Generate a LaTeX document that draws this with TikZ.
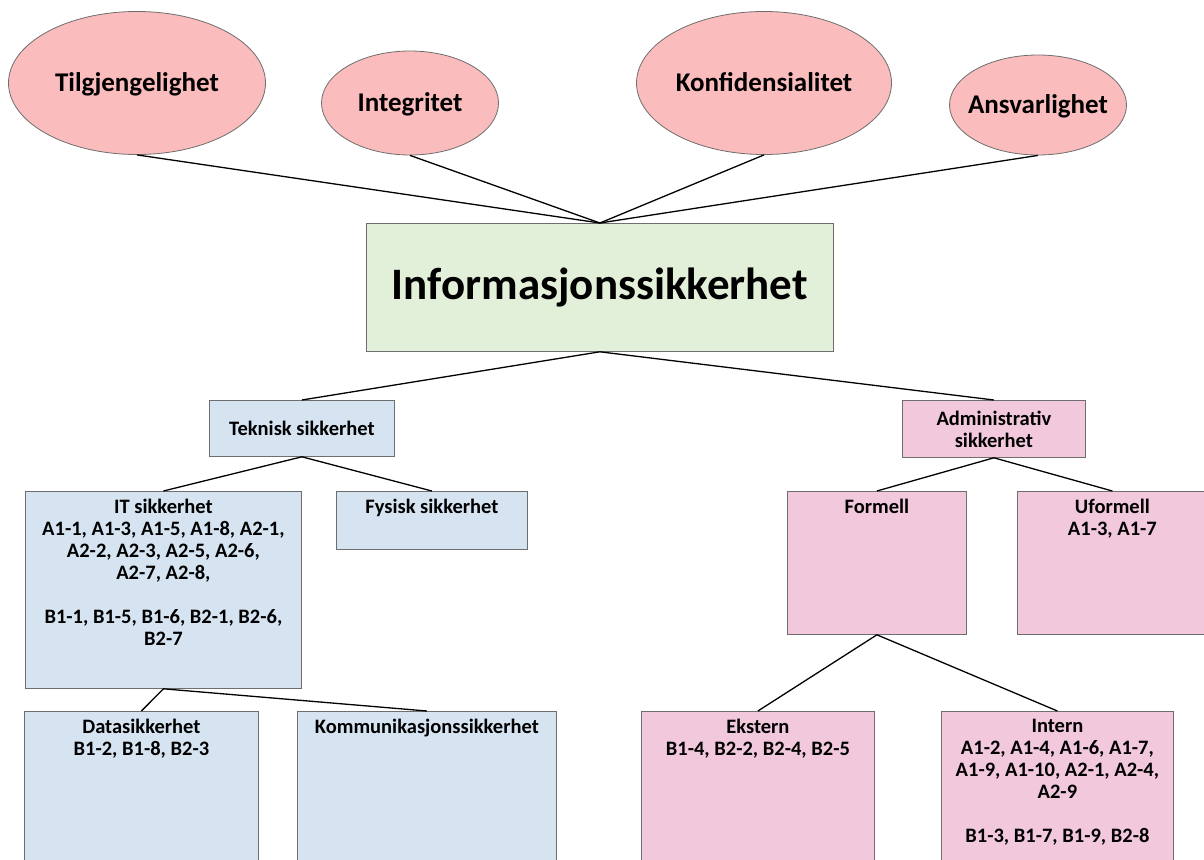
\documentclass[tikz,border=0pt]{standalone}
\usepackage{fontspec}
\setmainfont{Carlito}
\usetikzlibrary{shapes.geometric}
\definecolor{ovalpink}{HTML}{FABCBC}
\definecolor{infogreen}{HTML}{E2EFD9}
\definecolor{tekblue}{HTML}{D6E4F2}
\definecolor{admpink}{HTML}{F2C8DC}
\definecolor{edgegray}{HTML}{6E6E6E}
\begin{document}
\begin{tikzpicture}[x=1pt,y=-1pt,
  oval/.style={ellipse, draw=edgegray, line width=0.8pt, fill=ovalpink, inner sep=0pt, text height=17pt, text depth=0pt, font=\bfseries\fontsize{27}{32}\selectfont},
  box/.style={draw=edgegray, line width=0.8pt, inner sep=0pt, anchor=north west, align=center, font=\bfseries\fontsize{20.5}{22}\selectfont},
  tekbox/.style={box, fill=tekblue},
  admbox/.style={box, fill=admpink},
  toptxt/.style={anchor=north, inner sep=0pt, yshift=-8pt, align=center, font=\bfseries\fontsize{20.5}{22}\selectfont},
  link/.style={line width=1.3pt}]
\useasboundingbox (0,0) rectangle (1204,859);
\clip (0,0) rectangle (1204,859);
% top ovals
\node[oval, minimum width=257pt, minimum height=143pt] (tilg) at (137,83) {\makebox[0pt]{Tilgjengelighet}};
\node[oval, minimum width=177pt, minimum height=104pt] (integ) at (410,103) {\makebox[0pt]{Integritet}};
\node[oval, minimum width=255pt, minimum height=143pt] (konf) at (764,83) {\makebox[0pt]{Konfidensialitet}};
\node[oval, minimum width=177pt, minimum height=100pt] (ansv) at (1038,105) {\makebox[0pt]{Ansvarlighet}};
% main box
\node[box, fill=infogreen, minimum width=467pt, minimum height=128pt, font=\bfseries\fontsize{45}{54}\selectfont] (info) at (366,223) {Informasjonssikkerhet};
% technical side
\node[tekbox, minimum width=185pt, minimum height=56pt] (tek) at (209,400) {Teknisk sikkerhet};
\node[tekbox, minimum width=276pt, minimum height=197pt,
  label={[toptxt]north:{IT sikkerhet\\A1-1, A1-3, A1-5, A1-8, A2-1,\\A2-2, A2-3, A2-5, A2-6,\\A2-7, A2-8,\\[22pt]B1-1, B1-5, B1-6, B2-1, B2-6,\\B2-7}}] (it) at (25,491) {};
\node[tekbox, minimum width=191pt, minimum height=58pt,
  label={[toptxt]north:{Fysisk sikkerhet}}] (fys) at (336,491) {};
\node[tekbox, minimum width=234pt, minimum height=200pt,
  label={[toptxt]north:{Datasikkerhet\\B1-2, B1-8, B2-3}}] (data) at (24,711) {};
\node[tekbox, minimum width=259pt, minimum height=200pt,
  label={[toptxt]north:{Kommunikasjonssikkerhet}}] (komm) at (297,711) {};
% administrative side
\node[admbox, minimum width=183pt, minimum height=57pt] (adm) at (902,400) {Administrativ\\sikkerhet};
\node[admbox, minimum width=179pt, minimum height=143pt,
  label={[toptxt]north:{Formell}}] (form) at (787,491) {};
\node[admbox, minimum width=190pt, minimum height=143pt,
  label={[toptxt]north:{Uformell\\A1-3, A1-7}}] (uform) at (1017,491) {};
\node[admbox, minimum width=233pt, minimum height=200pt,
  label={[toptxt]north:{Ekstern\\B1-4, B2-2, B2-4, B2-5}}] (ekst) at (641,711) {};
\node[admbox, minimum width=232pt, minimum height=200pt,
  label={[toptxt]north:{Intern\\A1-2, A1-4, A1-6, A1-7,\\A1-9, A1-10, A2-1, A2-4,\\A2-9\\[22pt]B1-3, B1-7, B1-9, B2-8}}] (intern) at (941,711) {};
% connectors
\foreach \n in {tilg,integ,konf,ansv} \draw[link] (\n.south) -- (info.north);
\draw[link] (tek.north) -- (info.south) -- (adm.north);
\draw[link] (it.north) -- (tek.south) -- (fys.north);
\draw[link] (data.north) -- (it.south) -- (komm.north);
\draw[link] (form.north) -- (adm.south) -- (uform.north);
\draw[link] (ekst.north) -- (form.south) -- (intern.north);
\end{tikzpicture}
\end{document}
